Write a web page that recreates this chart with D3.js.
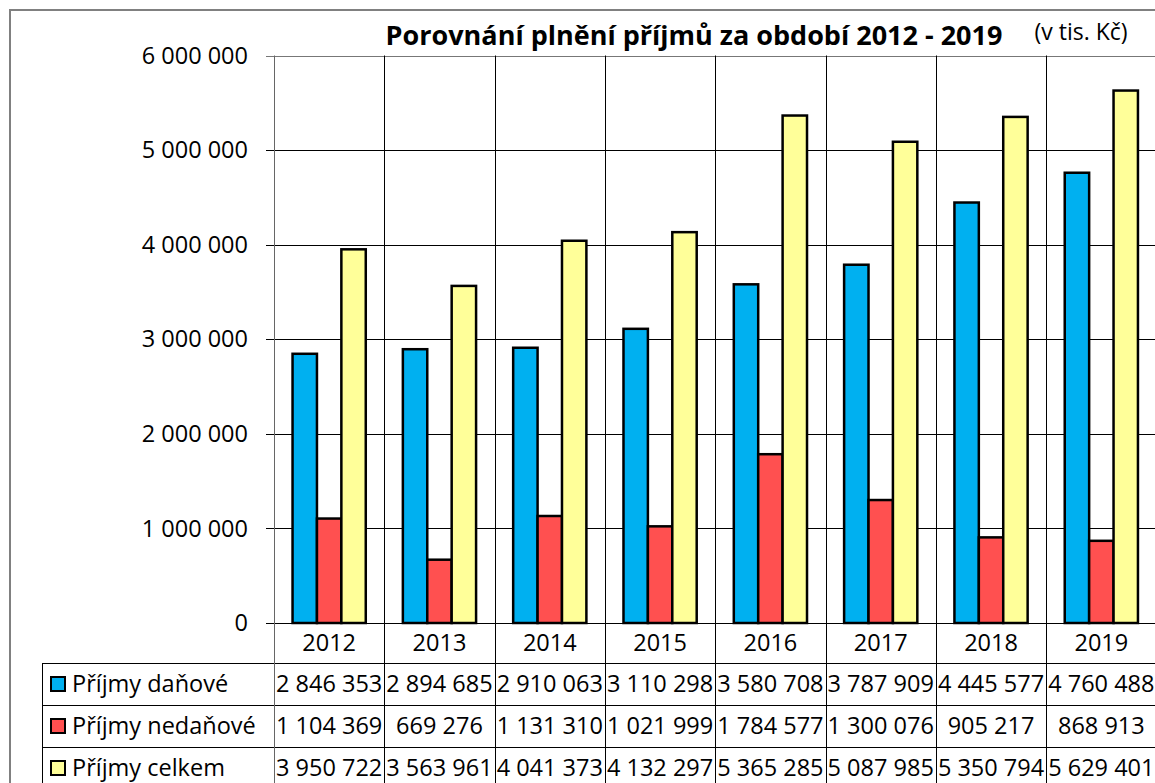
<!DOCTYPE html>
<html><head><meta charset="utf-8">
<script src="https://cdn.jsdelivr.net/npm/d3@7"></script>
<style>html,body{margin:0;padding:0;background:#fff;}svg{display:block;font-family:"Open Sans",sans-serif;}</style>
</head><body>
<svg id="c" width="1155" height="783"></svg>
<script>
const categories = ["2012","2013","2014","2015","2016","2017","2018","2019"];
const seriesNames = ["Příjmy daňové","Příjmy nedaňové","Příjmy celkem"];
const danove   = [2846353,2894685,2910063,3110298,3580708,3787909,4445577,4760488];
const nedanove = [1104369,669276,1131310,1021999,1784577,1300076,905217,868913];
const celkem   = [3950722,3563961,4041373,4132297,5365285,5087985,5350794,5629401];
const yTicks = [0,1000000,2000000,3000000,4000000,5000000,6000000];
const colors = ["#00B0F0","#FF5050","#FFFF99"];
const title = "Porovnání plnění příjmů za období 2012 - 2019";
const unit = "(v tis. Kč)";

const seriesValues = [danove, nedanove, celkem];
const svg = d3.select("#c");
const fmt = d3.formatLocale({decimal:",",thousands:" ",grouping:[3],currency:["",""]}).format(",d");

const L = 274, R = 1156.5, T = 55.5, B = 623;
const FS = 23.5;
const x = d3.scaleBand().domain(categories).range([L, R]).paddingInner(0).paddingOuter(0);
const x1 = d3.scaleBand().domain(seriesNames).range([0, x.bandwidth()]).paddingInner(0).paddingOuter(0.76);
const y = d3.scaleLinear().domain([0, 6000000]).range([B, T]);

// outer border
svg.append("path").attr("d", `M10,783 L10,10 L1156,10`).attr("fill","none").attr("stroke","#808080").attr("stroke-width",2);

// horizontal gridlines
svg.append("g").selectAll("line").data(yTicks).join("line")
  .attr("x1", 266).attr("x2", R)
  .attr("y1", d => Math.round(y(d)) + 0.5).attr("y2", d => Math.round(y(d)) + 0.5)
  .attr("stroke", d => d === 6000000 ? "#777" : "#000").attr("stroke-width", 1);

// y labels
svg.append("g").selectAll("text").data(yTicks).join("text")
  .attr("x", 248).attr("y", d => y(d)).attr("dy", "0.35em")
  .attr("text-anchor","end").attr("font-size", FS).attr("fill","#000")
  .text(d => fmt(d));

// table rows
const rowY = [663, 705, 747, 789];
const tableBottom = 790;
svg.append("g").selectAll("line").data(rowY).join("line")
  .attr("x1", 42).attr("x2", R)
  .attr("y1", d => d + 0.5).attr("y2", d => d + 0.5)
  .attr("stroke", "#000").attr("stroke-width", 1);
svg.append("line").attr("x1", 42.5).attr("x2", 42.5).attr("y1", 663).attr("y2", tableBottom).attr("stroke","#000");

// vertical dividers
const bounds = categories.map(c => x(c)).concat([R]);
svg.append("g").selectAll("line").data(bounds).join("line")
  .attr("x1", d => Math.round(d) + 0.5).attr("x2", d => Math.round(d) + 0.5)
  .attr("y1", T).attr("y2", tableBottom)
  .attr("stroke", (d,i) => i === 0 ? "#666" : "#000").attr("stroke-width", 1);

// bars
const g = svg.append("g");
categories.forEach((c, ci) => {
  seriesNames.forEach((s, si) => {
    const v = seriesValues[si][ci];
    g.append("rect")
      .attr("x", x(c) + x1(s)).attr("width", x1.bandwidth())
      .attr("y", y(v)).attr("height", y(0) - y(v))
      .attr("fill", colors[si]).attr("stroke", "#000").attr("stroke-width", 2.5);
  });
});

// category labels
svg.append("g").selectAll("text").data(categories).join("text")
  .attr("x", d => x(d) + x.bandwidth()/2).attr("y", 643).attr("dy","0.35em")
  .attr("text-anchor","middle").attr("font-size", FS).text(d => d);

// legend + values
seriesNames.forEach((s, si) => {
  const cy = (rowY[si] + rowY[si+1]) / 2;
  svg.append("rect").attr("x", 51).attr("y", cy - 7).attr("width", 14).attr("height", 14)
    .attr("fill", colors[si]).attr("stroke","#000").attr("stroke-width",2);
  svg.append("text").attr("x", 72).attr("y", cy).attr("dy","0.35em")
    .attr("font-size", FS).text(s);
  categories.forEach((c, ci) => {
    svg.append("text").attr("x", x(c) + x.bandwidth()/2).attr("y", cy).attr("dy","0.35em")
      .attr("text-anchor","middle").attr("font-size", FS).text(fmt(seriesValues[si][ci]));
  });
});

// title
svg.append("text").attr("x", 694).attr("y", 36).attr("dy","0.35em")
  .attr("text-anchor","middle").attr("font-size", 27).attr("font-weight","bold").text(title);
svg.append("text").attr("x", 1081).attr("y", 32).attr("dy","0.35em")
  .attr("text-anchor","middle").attr("font-size", 23).text(unit);
</script>
</body></html>
